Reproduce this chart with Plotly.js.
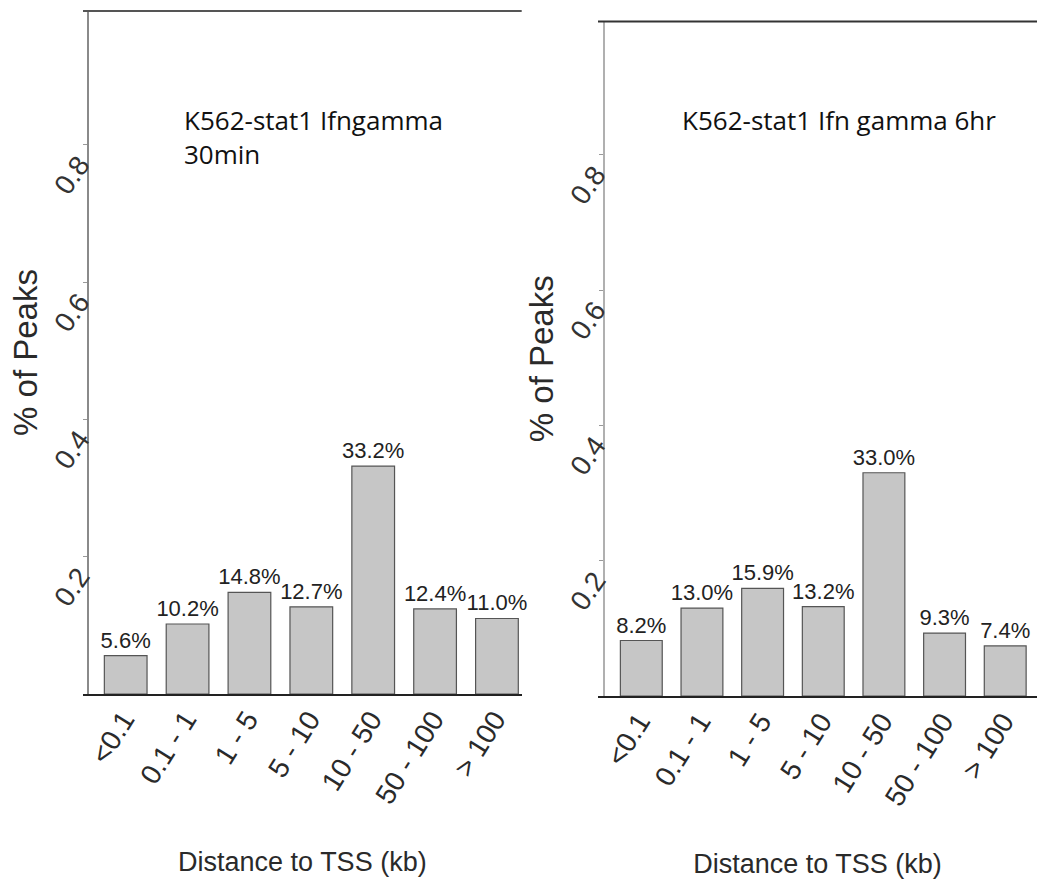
<!DOCTYPE html>
<html>
<head>
<meta charset="utf-8">
<script src="https://cdn.plot.ly/plotly-3.0.1.min.js"></script>
<style>
  html, body { margin: 0; padding: 0; background: #fff; }
  #chart { width: 1037px; height: 886px; }
</style>
</head>
<body>
<div id="chart"></div>
<script>
// Distance-to-TSS bins (kb) and share of peaks in each bin
const bins = ['<0.1', '0.1 - 1', '1 - 5', '5 - 10', '10 - 50', '50 - 100', '> 100'];
const share30min = [0.056, 0.102, 0.148, 0.127, 0.332, 0.124, 0.110];
const share6hr = [0.082, 0.130, 0.159, 0.132, 0.330, 0.093, 0.074];
const yTicks = [0.2, 0.4, 0.6, 0.8];
const panelTitles = ['K562-stat1 Ifngamma<br>30min', 'K562-stat1 Ifn gamma 6hr'];
const xTitle = 'Distance to TSS (kb)';
const yTitle = '% of Peaks';

const W = 1037, H = 886;
const px = v => v / W;
const py = v => 1 - v / H;
const esc = s => s.replace(/</g, '&lt;').replace(/>/g, '&gt;');

const SANS = 'Liberation Sans, Arial, sans-serif';

function barTrace(values, xa, ya) {
  return {
    type: 'bar',
    x: bins,
    y: values,
    xaxis: xa,
    yaxis: ya,
    width: 0.69,
    marker: { color: '#c6c6c6', line: { color: '#555', width: 1.2 } },
    texttemplate: '%{y:.1%}',
    textposition: 'outside',
    constraintext: 'none',
    cliponaxis: false,
    textfont: { family: SANS, size: 22, color: '#222' },
    hoverinfo: 'skip'
  };
}

function xAxis(domain, range, anchor) {
  return {
    domain: domain, range: range, anchor: anchor,
    type: 'category',
    tickvals: bins, ticktext: bins.map(esc),
    tickangle: -58,
    tickfont: { family: SANS, size: 28, color: '#2a2a2a' },
    ticks: '', ticklabelstandoff: -4, ticklabelshift: -2,
    showline: true, linecolor: '#222', linewidth: 2,
    showgrid: false, zeroline: false, fixedrange: true,
    title: { text: xTitle, font: { family: SANS, size: 27, color: '#2a2a2a' }, standoff: 44 }
  };
}

function yAxis(domain, range, pos, lineColor) {
  return {
    domain: domain, range: range, anchor: 'free', position: pos,
    tickvals: yTicks, ticktext: yTicks.map(v => v.toFixed(1)),
    tickangle: -55,
    tickfont: { family: SANS, size: 28, color: '#333' },
    ticks: 'outside', ticklen: 4, tickcolor: '#999', tickwidth: 1,
    ticklabelshift: 16, ticklabelstandoff: -2,
    showline: true, linecolor: lineColor, linewidth: 2,
    showgrid: false, zeroline: false, fixedrange: true,
    title: { text: yTitle, font: { family: SANS, size: 33, color: '#2a2a2a' }, standoff: 0 }
  };
}

const data = [
  barTrace(share30min, 'x', 'y'),
  barTrace(share6hr, 'x2', 'y2')
];

const layout = {
  width: W, height: H,
  margin: { l: 0, r: 0, t: 0, b: 0 },
  paper_bgcolor: '#fff', plot_bgcolor: 'rgba(0,0,0,0)',
  showlegend: false,
  bargap: 0.31,
  xaxis: xAxis([px(83), px(521.7)], [-0.69, 6.40], 'y'),
  yaxis: yAxis([py(694), py(11)], [0, 0.995], px(88), '#8a8a8a'),
  xaxis2: xAxis([px(598), 1], [-0.714, 6.524], 'y2'),
  yaxis2: yAxis([py(696), py(21.5)], [0, 0.997], px(604), '#b0b0b0'),
  shapes: [
    { type: 'line', xref: 'paper', yref: 'paper', x0: px(83), x1: px(521.7), y0: py(11), y1: py(11),
      line: { color: '#555', width: 2 } },
    { type: 'line', xref: 'paper', yref: 'paper', x0: px(598), x1: 1, y0: py(21.5), y1: py(21.5),
      line: { color: '#333', width: 2 } }
  ],
  annotations: [
    { xref: 'paper', yref: 'paper', x: px(182), y: py(100), xanchor: 'left', yanchor: 'top', align: 'left',
      text: panelTitles[0], showarrow: false,
      font: { family: 'Open Sans, sans-serif', size: 26, color: '#111' } },
    { xref: 'paper', yref: 'paper', x: px(680), y: py(100), xanchor: 'left', yanchor: 'top', align: 'left',
      text: panelTitles[1], showarrow: false,
      font: { family: 'Open Sans, sans-serif', size: 26, color: '#111' } }
  ]
};

Plotly.newPlot('chart', data, layout, { staticPlot: true, displayModeBar: false });
</script>
</body>
</html>
